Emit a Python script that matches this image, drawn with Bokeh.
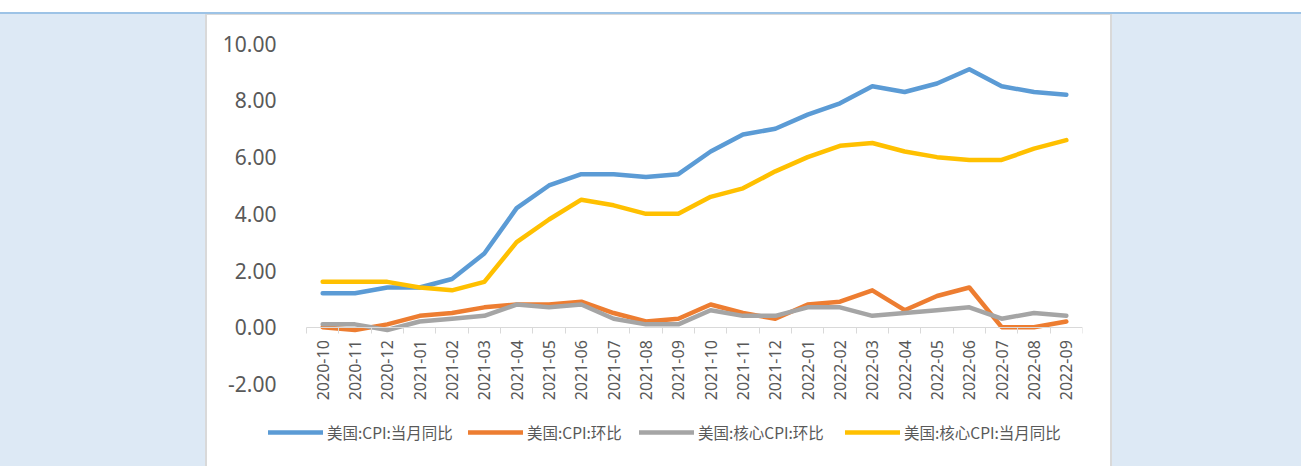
import math
from bokeh.plotting import figure
from bokeh.models import (Range1d, LinearAxis, FixedTicker, NumeralTickFormatter,
                          Legend, LegendItem, Spacer)
from bokeh.layouts import column, row
from bokeh.embed import file_html
from bokeh.resources import INLINE

months = ["2020-10", "2020-11", "2020-12", "2021-01", "2021-02", "2021-03",
          "2021-04", "2021-05", "2021-06", "2021-07", "2021-08", "2021-09",
          "2021-10", "2021-11", "2021-12", "2022-01", "2022-02", "2022-03",
          "2022-04", "2022-05", "2022-06", "2022-07", "2022-08", "2022-09"]
cpi_yoy = [1.2, 1.2, 1.4, 1.4, 1.7, 2.6, 4.2, 5.0, 5.4, 5.4, 5.3, 5.4,
           6.2, 6.8, 7.0, 7.5, 7.9, 8.5, 8.3, 8.6, 9.1, 8.5, 8.3, 8.2]
cpi_mom = [0.0, -0.1, 0.1, 0.4, 0.5, 0.7, 0.8, 0.8, 0.9, 0.5, 0.2, 0.3,
           0.8, 0.5, 0.3, 0.8, 0.9, 1.3, 0.6, 1.1, 1.4, 0.0, 0.0, 0.2]
core_mom = [0.1, 0.1, -0.1, 0.2, 0.3, 0.4, 0.8, 0.7, 0.8, 0.3, 0.1, 0.1,
            0.6, 0.4, 0.4, 0.7, 0.7, 0.4, 0.5, 0.6, 0.7, 0.3, 0.5, 0.4]
core_yoy = [1.6, 1.6, 1.6, 1.4, 1.3, 1.6, 3.0, 3.8, 4.5, 4.3, 4.0, 4.0,
            4.6, 4.9, 5.5, 6.0, 6.4, 6.5, 6.2, 6.0, 5.9, 5.9, 6.3, 6.6]
series_names = ["美国:CPI:当月同比", "美国:CPI:环比", "美国:核心CPI:环比", "美国:核心CPI:当月同比"]
y_ticks = [-2, 0, 2, 4, 6, 8, 10]

colors = ["#5b9bd5", "#ed7d31", "#a5a5a5", "#ffc000"]
label_color = "#595959"
axis_color = "#d9d9d9"
num_font = "Noto Sans"

n = len(months)
idx = list(range(n))
x_lo, x_hi = -0.5, n - 0.5

p = figure(width=903, height=451,
           x_range=Range1d(-3.314, x_hi),
           y_range=Range1d(-4.915, 10.363),
           x_axis_type=None, y_axis_type=None,
           output_backend="svg", toolbar_location=None,
           min_border_left=8, min_border_right=28,
           min_border_top=18, min_border_bottom=0)
p.outline_line_color = None
p.background_fill_color = "white"
p.border_fill_color = "white"

# y axis (drawn at the left end of the category span)
yax = LinearAxis(ticker=FixedTicker(ticks=y_ticks),
                 formatter=NumeralTickFormatter(format="0.00"),
                 fixed_location=x_lo)
yax.axis_line_color = None
yax.major_tick_line_color = None
yax.minor_tick_line_color = None
yax.major_tick_out = 0
yax.major_tick_in = 0
yax.major_label_standoff = 30
yax.major_label_text_font = num_font
yax.major_label_text_font_size = "21px"
yax.major_label_text_color = label_color
p.add_layout(yax, "left")

# x axis: line and tick marks between categories
xtick = LinearAxis(ticker=FixedTicker(ticks=[i - 0.5 for i in range(n + 1)]),
                   fixed_location=0, bounds=(x_lo, x_hi))
xtick.axis_line_color = axis_color
xtick.axis_line_width = 1
xtick.major_tick_line_color = axis_color
xtick.major_tick_in = 0
xtick.major_tick_out = 6
xtick.minor_tick_line_color = None
xtick.major_label_text_font_size = "0px"
xtick.major_label_text_alpha = 0
p.add_layout(xtick, "below")

# x axis: category labels
xlab = LinearAxis(ticker=FixedTicker(ticks=idx),
                  major_label_overrides={i: m for i, m in enumerate(months)},
                  fixed_location=0)
xlab.axis_line_color = None
xlab.major_tick_line_color = None
xlab.minor_tick_line_color = None
xlab.major_tick_out = 0
xlab.major_tick_in = 0
xlab.major_label_orientation = math.pi / 2
xlab.major_label_standoff = 13
xlab.major_label_text_font = num_font
xlab.major_label_text_font_size = "16px"
xlab.major_label_text_color = label_color
p.add_layout(xlab, "below")

renderers = []
for vals, c in zip([cpi_yoy, cpi_mom, core_mom, core_yoy], colors):
    r = p.line(idx, vals, line_color=c, line_width=4.5,
               line_cap="round", line_join="round")
    renderers.append(r)

# one legend box per entry, laid out in a row below the chart
legend_x = [53, 253, 424, 630]
for name, r, lx in zip(series_names, renderers, legend_x):
    lg = Legend(items=[LegendItem(label=name, renderers=[r])],
                orientation="horizontal", location=(lx, 23),
                glyph_width=55, glyph_height=20, label_height=20,
                label_standoff=4, spacing=0, padding=0, margin=0,
                border_line_color=None, background_fill_alpha=0,
                label_text_font="Noto Sans CJK SC", label_text_font_size="15.5px",
                label_text_color=label_color)
    p.add_layout(lg)

bg = "#dde9f5"
top_white = Spacer(width=1301, height=12)
blue_line = Spacer(width=1301, height=2, styles={"background-color": "#9dc3e6"})
left = Spacer(width=205, height=452, styles={"background-color": bg})
lb = Spacer(width=2, height=452, styles={"background-color": axis_color})
panel = column(Spacer(width=903, height=1, styles={"background-color": axis_color}), p)
rb = Spacer(width=2, height=452, styles={"background-color": axis_color})
right = Spacer(width=189, height=452, styles={"background-color": bg})
root = column(top_white, blue_line, row(left, lb, panel, rb, right))

open("out.html", "w").write(file_html(root, INLINE))
